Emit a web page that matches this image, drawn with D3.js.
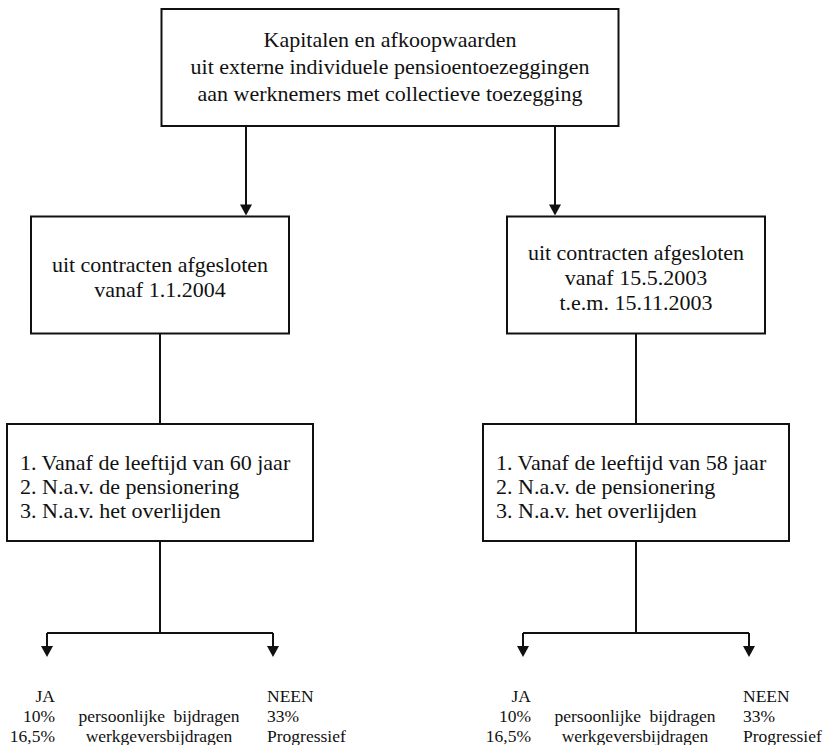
<!DOCTYPE html>
<html>
<head>
<meta charset="utf-8">
<script src="https://cdn.jsdelivr.net/npm/d3@7"></script>
<style>
  body { margin: 0; background: #fff; }
</style>
</head>
<body>
<div id="chart"></div>
<script>
// flowchart content
const branches = ["links", "rechts"];
const topLines = [
    "Kapitalen en afkoopwaarden",
    "uit externe individuele pensioentoezeggingen",
    "aan werknemers met collectieve toezegging"
];
const contractLines = [
    ["uit contracten afgesloten", "vanaf 1.1.2004"],
    ["uit contracten afgesloten", "vanaf 15.5.2003", "t.e.m. 15.11.2003"]
];
const conditionLines = [
    ["1. Vanaf de leeftijd van 60 jaar", "2. N.a.v. de pensionering", "3. N.a.v. het overlijden"],
    ["1. Vanaf de leeftijd van 58 jaar", "2. N.a.v. de pensionering", "3. N.a.v. het overlijden"]
];
const answerHeads = ["JA", "NEEN"];
const yesRates = ["10%", "16,5%"];
const contributionTypes = ["persoonlijke bijdragen", "werkgeversbijdragen"];
const noRates = ["33%", "Progressief"];

const width = 823, height = 745;
const serif = "Liberation Serif";

const svg = d3.select("#chart")
    .append("svg")
    .attr("width", width)
    .attr("height", height);

// level -> top of box
const y = d3.scaleLinear().domain([0, 2]).range([9, 424]);
const boxH = 117;
// branch column centres
const x = d3.scalePoint().domain(branches).range([160, 636]);
const topCenter = 390;
const topW = 457, midW = 258, lowW = 306;

function box(cx, top, w) {
    svg.append("rect")
        .attr("x", cx - w / 2)
        .attr("y", top)
        .attr("width", w)
        .attr("height", boxH)
        .style("fill", "none")
        .style("stroke", "#111")
        .style("stroke-width", 2);
}

function line(x1, y1, x2, y2) {
    svg.append("line")
        .attr("x1", x1).attr("y1", y1)
        .attr("x2", x2).attr("y2", y2)
        .style("stroke", "#111")
        .style("stroke-width", 2);
}

function arrowDown(xx, y1, yTip) {
    line(xx, y1, xx, yTip - 8);
    svg.append("path")
        .attr("d", `M${xx - 6},${yTip - 11}L${xx + 6},${yTip - 11}L${xx},${yTip}Z`)
        .style("fill", "#111");
}

function label(sel, size) {
    return sel.attr("font-family", serif)
        .attr("font-size", size)
        .attr("fill", "#111");
}

// top box
box(topCenter, y(0), topW);
label(svg.selectAll(".topText")
    .data(topLines)
    .enter()
    .append("text")
    .attr("x", topCenter)
    .attr("y", (d, i) => y(0) + 38 + i * 27)
    .attr("text-anchor", "middle"), 22)
    .text(d => d);

// arrows to contract boxes
const arrowOffsets = [-144, 165];
arrowOffsets.forEach(o => arrowDown(topCenter + o, y(0) + boxH, y(1) - 1));

branches.forEach((b, bi) => {
    const cx = x(b);

    // contract box
    box(cx, y(1), midW);
    const lines = contractLines[bi];
    const mid = y(1) + boxH / 2 + 2;
    label(svg.selectAll(".contract" + bi)
        .data(lines)
        .enter()
        .append("text")
        .attr("x", cx)
        .attr("y", (d, i) => mid + (i - (lines.length - 1) / 2) * 25)
        .attr("dy", "0.35em")
        .attr("text-anchor", "middle"), 22)
        .text(d => d);

    // connector
    line(cx, y(1) + boxH, cx, y(2));

    // condition box
    box(cx, y(2), lowW);
    label(svg.selectAll(".cond" + bi)
        .data(conditionLines[bi])
        .enter()
        .append("text")
        .attr("x", cx - lowW / 2 + 13)
        .attr("y", (d, i) => y(2) + 38 + i * 24)
        .attr("dy", "0.35em"), 22)
        .text(d => d);

    // split into JA / NEEN
    const splitY = y(2) + boxH + 92;
    line(cx, y(2) + boxH, cx, splitY);
    line(cx - 113, splitY, cx + 113, splitY);
    arrowDown(cx - 113, splitY, splitY + 24);
    arrowDown(cx + 113, splitY, splitY + 24);

    // outcome labels
    const rowY = d3.scaleLinear().domain([0, 2]).range([702, 742]);
    const g = svg.append("g");
    label(g.append("text").attr("x", cx - 105).attr("y", rowY(0))
        .attr("text-anchor", "end"), 17.5).text(answerHeads[0]);
    label(g.append("text").attr("x", cx + 107).attr("y", rowY(0)), 17.5)
        .text(answerHeads[1]);
    yesRates.forEach((t, i) => {
        label(g.append("text").attr("x", cx - 105).attr("y", rowY(i + 1))
            .attr("text-anchor", "end"), 17.5).text(t);
    });
    contributionTypes.forEach((t, i) => {
        label(g.append("text").attr("x", cx - 1).attr("y", rowY(i + 1))
            .attr("text-anchor", "middle")
            .attr("word-spacing", i === 0 ? 4 : 0), 17.5)
            .text(t);
    });
    noRates.forEach((t, i) => {
        label(g.append("text").attr("x", cx + 107).attr("y", rowY(i + 1)), 17.5)
            .text(t);
    });
});
</script>
</body>
</html>
